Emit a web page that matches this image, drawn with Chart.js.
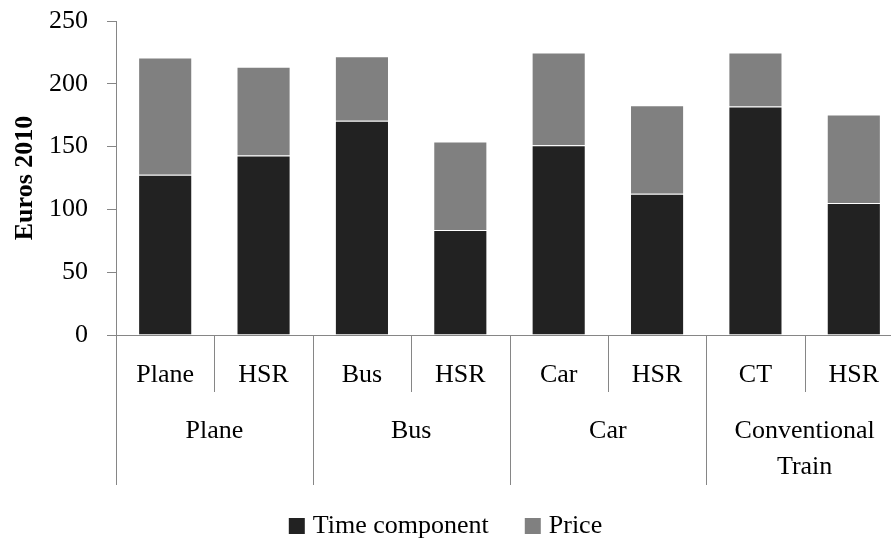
<!DOCTYPE html>
<html>
<head>
<meta charset="utf-8">
<script src="https://cdn.jsdelivr.net/npm/chart.js@4"></script>
<style>
  html, body { margin: 0; padding: 0; background: #fff; overflow: hidden; }
  #wrap { width: 903px; height: 540px; }
</style>
</head>
<body>
<div id="wrap"><canvas id="costChart"></canvas></div>
<script>
// data
const modes = ['Plane', 'HSR', 'Bus', 'HSR', 'Car', 'HSR', 'CT', 'HSR'];
const groups = [['Plane'], ['Bus'], ['Car'], ['Conventional', 'Train']];
const timeComponent = [127.5, 143, 170.5, 83.5, 151, 112.5, 182, 105];
const price = [93.5, 70.5, 51.5, 70.5, 74, 70.5, 43, 70.5];
const yTicks = [0, 50, 100, 150, 200, 250];

const FONT = 'Liberation Serif';
const AXIS = '#868686';

const groupAxis = {
    id: 'groupAxis',
    afterDraw(chart) {
        const ctx = chart.ctx;
        const x = chart.scales.x;
        const top = x.top;
        const step = x.getPixelForValue(1) - x.getPixelForValue(0);
        ctx.save();
        ctx.strokeStyle = AXIS;
        ctx.lineWidth = 1;
        // separators
        for (let i = 0; i <= modes.length; i++) {
            const bx = Math.round(x.getPixelForValue(i) - step / 2) + 0.5;
            const len = i % 2 === 0 ? 150 : 57;
            ctx.beginPath();
            ctx.moveTo(bx, top);
            ctx.lineTo(bx, top + len);
            ctx.stroke();
        }
        ctx.fillStyle = '#000';
        ctx.font = '26px "' + FONT + '"';
        ctx.textAlign = 'center';
        ctx.textBaseline = 'middle';
        modes.forEach((m, i) => {
            ctx.fillText(m, x.getPixelForValue(i), top + 40);
        });
        groups.forEach((g, gi) => {
            const cx = (x.getPixelForValue(gi * 2) + x.getPixelForValue(gi * 2 + 1)) / 2;
            g.forEach((line, li) => {
                ctx.fillText(line, cx, top + 96 + li * 36);
            });
        });

        // legend, centred in the visible 891px window
        const ds = chart.data.datasets;
        const box = 16, gap = 8, itemGap = 36;
        const widths = ds.map(d => ctx.measureText(d.label).width);
        let total = 0;
        widths.forEach((w, i) => { total += box + gap + w + (i ? itemGap : 0); });
        let lx = 891 / 2 - total / 2;
        const ly = 526;
        ctx.textAlign = 'left';
        ds.forEach((d, i) => {
            ctx.fillStyle = d.backgroundColor;
            ctx.fillRect(lx, ly - 8, box, box);
            ctx.fillStyle = '#000';
            ctx.fillText(d.label, lx + box + gap, ly);
            lx += box + gap + widths[i] + itemGap;
        });
        ctx.restore();
    }
};

const ctx = document.getElementById('costChart').getContext('2d');
new Chart(ctx, {
    type: 'bar',
    data: {
        labels: modes,
        datasets: [{
            label: 'Time component',
            data: timeComponent,
            backgroundColor: '#222222',
            borderColor: 'rgba(255,255,255,0.18)',
            borderWidth: 1
        }, {
            label: 'Price',
            data: price,
            backgroundColor: '#808080',
            borderColor: 'rgba(255,255,255,0.3)',
            borderWidth: 1
        }]
    },
    options: {
        responsive: true,
        maintainAspectRatio: false,
        animation: false,
        datasets: {
            bar: { barPercentage: 0.55, categoryPercentage: 1 }
        },
        layout: { padding: { top: 21, right: 0, bottom: 0, left: 0 } },
        plugins: {
            legend: { display: false },
            tooltip: { enabled: false }
        },
        scales: {
            x: {
                stacked: true,
                grid: { display: false },
                border: { display: true, color: AXIS, width: 1 },
                ticks: { display: false },
                afterFit(scale) { scale.height = 205; }
            },
            y: {
                stacked: true,
                min: yTicks[0],
                max: yTicks[yTicks.length - 1],
                afterBuildTicks(scale) {
                    scale.ticks = yTicks.map(v => ({ value: v }));
                },
                grid: { drawOnChartArea: false, tickLength: 9, color: AXIS },
                border: { display: true, color: AXIS, width: 1 },
                ticks: {
                    padding: 19,
                    color: '#000',
                    font: { family: FONT, size: 26 }
                },
                title: {
                    display: true,
                    text: 'Euros 2010',
                    color: '#000',
                    font: { family: FONT, size: 26, weight: 'bold' },
                    padding: { top: 10, bottom: 0 }
                },
                afterFit(scale) {
                    scale.width = 116;
                    scale.paddingTop = 0;
                    scale.paddingBottom = 0;
                }
            }
        }
    },
    plugins: [groupAxis]
});
</script>
</body>
</html>
